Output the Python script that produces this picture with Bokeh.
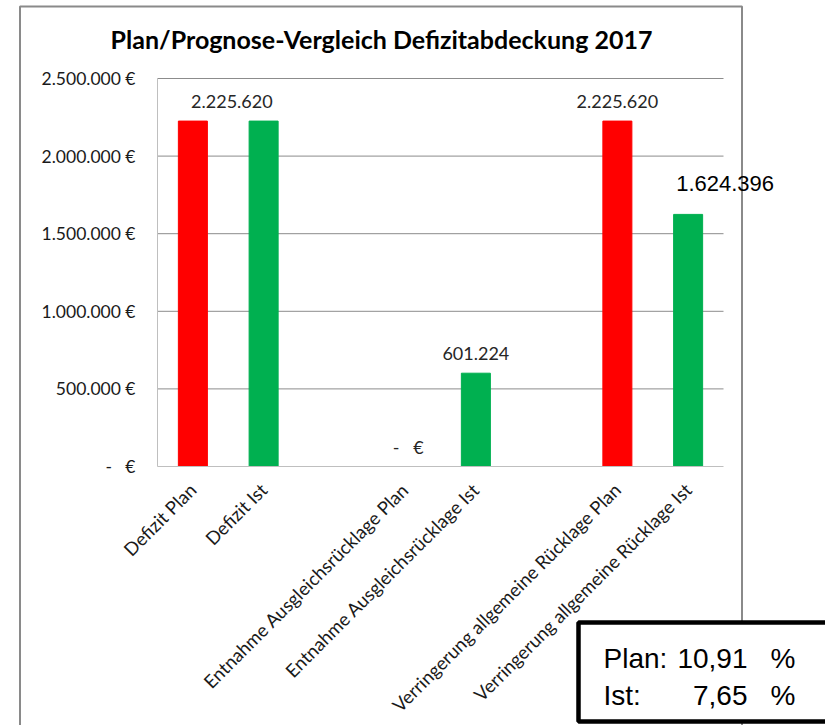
import math
from bokeh.plotting import figure
from bokeh.models import Range1d, FixedTicker, Label, LabelSet, BoxAnnotation, ColumnDataSource
from bokeh.core.properties import value
from bokeh.embed import file_html
from bokeh.resources import INLINE

# ---------------- data ----------------
title_text = "Plan/Prognose-Vergleich Defizitabdeckung 2017"

# category slots along the x axis (two empty gap slots)
axis_slots = ["Defizit Plan", "Defizit Ist", "",
              "Entnahme Ausgleichsrücklage Plan", "Entnahme Ausgleichsrücklage Ist", "",
              "Verringerung allgemeine Rücklage Plan", "Verringerung allgemeine Rücklage Ist"]

bar_categories = ["Defizit Plan", "Defizit Ist",
                  "Entnahme Ausgleichsrücklage Plan", "Entnahme Ausgleichsrücklage Ist",
                  "Verringerung allgemeine Rücklage Plan", "Verringerung allgemeine Rücklage Ist"]
bar_kinds = ["Plan", "Ist", "Plan", "Ist", "Plan", "Ist"]
bar_values = [2225620, 2225620, 0, 601224, 2225620, 1624396]

y_ticks = [0, 500000, 1000000, 1500000, 2000000, 2500000]

# data labels shown in the chart
label_categories = ["Defizit Plan", "Entnahme Ausgleichsrücklage Plan",
                    "Entnahme Ausgleichsrücklage Ist", "Verringerung allgemeine Rücklage Plan"]
big_label_categories = ["Verringerung allgemeine Rücklage Ist"]

plan_percent = 10.91
ist_percent = 7.65

# ---------------- layout / styling ----------------
W, H = 825, 725
PLOT_LEFT, PLOT_TOP, PLOT_BOTTOM = 157, 78, 466
SLOT_PX = 70.75
Y_MAX = 2500000
PX_PER_UNIT = (PLOT_BOTTOM - PLOT_TOP) / Y_MAX

NB = "\u00a0"
kind_colors = {"Plan": "#FF0000", "Ist": "#00B050"}
label_offsets_x = {"Defizit Plan": 39, "Entnahme Ausgleichsrücklage Plan": 3,
                   "Entnahme Ausgleichsrücklage Ist": 0, "Verringerung allgemeine Rücklage Plan": 0,
                   "Verringerung allgemeine Rücklage Ist": 37}
label_offsets_y = {"Defizit Plan": 20, "Entnahme Ausgleichsrücklage Plan": 20,
                   "Entnahme Ausgleichsrücklage Ist": 20, "Verringerung allgemeine Rücklage Plan": 20,
                   "Verringerung allgemeine Rücklage Ist": 31}


def de_num(v):
    return f"{v:,}".replace(",", ".")


def val_label(v):
    return de_num(v) if v else "-" + NB * 3 + "€"


def tick_label(t):
    return (de_num(t) + " €") if t else "-" + NB * 3 + "€"


def pct(v):
    return f"{v:.2f}".replace(".", ",")


def sx(X):          # page x -> screen units
    return X


def sy(Y):          # page y -> screen units (measured upward from the bottom)
    return H - Y


pos_of = {c: i for i, c in enumerate(axis_slots) if c}
value_of = dict(zip(bar_categories, bar_values))

x_start = -0.5 - PLOT_LEFT / SLOT_PX
x_end = x_start + W / SLOT_PX
y_start = -(H - PLOT_BOTTOM) / PX_PER_UNIT
y_end = PLOT_BOTTOM / PX_PER_UNIT

p = figure(x_range=Range1d(x_start, x_end), y_range=Range1d(y_start, y_end),
           width=W, height=H, output_backend="svg", toolbar_location=None,
           min_border=0, min_border_left=0, min_border_right=0,
           min_border_top=0, min_border_bottom=0)
p.outline_line_color = None
p.background_fill_color = "white"
p.border_fill_color = "white"
p.xgrid.visible = False
p.ygrid.visible = False

x_lo, x_hi = -0.5, len(axis_slots) - 0.5

# horizontal gridlines (value ticks above zero)
grid_vals = [t for t in y_ticks if t > 0]
p.segment(x0=[x_lo] * len(grid_vals), x1=[x_hi] * len(grid_vals), y0=grid_vals, y1=grid_vals,
          line_color="#8c8c8c", line_width=1)

# bars
src = ColumnDataSource(dict(x=[pos_of[c] for c in bar_categories], top=bar_values,
                            color=[kind_colors[k] for k in bar_kinds]))
p.vbar(x="x", top="top", width=0.41, color="color", source=src)

# y axis
ya = p.yaxis[0]
ya.fixed_location = x_lo
ya.bounds = (0, Y_MAX)
ya.ticker = FixedTicker(ticks=y_ticks)
ya.major_label_overrides = {t: tick_label(t) for t in y_ticks}
ya.axis_line_color = "#bfbfbf"
ya.major_tick_line_color = None
ya.minor_tick_line_color = None
ya.major_tick_out = 0
ya.major_tick_in = 0
ya.major_label_standoff = 22
ya.major_label_text_font = "Lato"
ya.major_label_text_font_size = "17.5px"
ya.major_label_text_color = "#1a1a1a"

# x axis
xa = p.xaxis[0]
xa.fixed_location = 0
xa.bounds = (x_lo, x_hi)
xa.ticker = FixedTicker(ticks=[pos_of[c] for c in bar_categories])
xa.major_label_overrides = {pos_of[c]: c for c in bar_categories}
xa.axis_line_color = "#bfbfbf"
xa.major_tick_line_color = None
xa.minor_tick_line_color = None
xa.major_tick_out = 0
xa.major_tick_in = 0
xa.major_label_orientation = math.pi / 4
xa.major_label_standoff = 20
xa.major_label_text_font = "Lato"
xa.major_label_text_font_size = "18.5px"
xa.major_label_text_color = "#1a1a1a"

# outer chart frame
p.add_layout(BoxAnnotation(left=sx(19.5), right=sx(741.5), top=sy(6), bottom=sy(740),
                           left_units="screen", right_units="screen",
                           top_units="screen", bottom_units="screen",
                           fill_alpha=0, line_color="#8a8a8a", line_alpha=1, line_width=2))

# data labels
lab_src = ColumnDataSource(dict(x=[pos_of[c] for c in label_categories],
                                y=[value_of[c] for c in label_categories],
                                text=[val_label(value_of[c]) for c in label_categories],
                                xo=[label_offsets_x[c] for c in label_categories],
                                yo=[label_offsets_y[c] for c in label_categories]))
p.add_layout(LabelSet(x="x", y="y", text="text", x_offset="xo", y_offset="yo", source=lab_src,
                      text_align="center", text_baseline="middle", text_font=value("Lato"),
                      text_font_size="18px", text_color="#262626"))
big_src = ColumnDataSource(dict(x=[pos_of[c] for c in big_label_categories],
                                y=[value_of[c] for c in big_label_categories],
                                text=[val_label(value_of[c]) for c in big_label_categories],
                                xo=[label_offsets_x[c] for c in big_label_categories],
                                yo=[label_offsets_y[c] for c in big_label_categories]))
p.add_layout(LabelSet(x="x", y="y", text="text", x_offset="xo", y_offset="yo", source=big_src,
                      text_align="center", text_baseline="middle", text_font=value("Liberation Sans"),
                      text_font_size="22px", text_color="black"))

# title
p.add_layout(Label(x=sx(381), y=sy(38), x_units="screen", y_units="screen", text=title_text,
                   text_align="center", text_baseline="middle", text_font="Lato",
                   text_font_style="bold", text_font_size="25px", text_color="black"))

# Plan / Ist box
p.add_layout(BoxAnnotation(left=sx(578), right=sx(840), top=sy(622), bottom=sy(721),
                           left_units="screen", right_units="screen",
                           top_units="screen", bottom_units="screen",
                           fill_color="white", fill_alpha=1, line_color="black", line_alpha=1,
                           line_width=4.5))
box_rows = [("Plan:", plan_percent, 658), ("Ist:", ist_percent, 695)]
for name, v, mid in box_rows:
    common = dict(y=sy(mid), x_units="screen", y_units="screen", text_baseline="middle",
                  text_font="Liberation Sans", text_font_size="28px", text_color="black")
    p.add_layout(Label(x=sx(603), text=name, text_align="left", **common))
    p.add_layout(Label(x=sx(747), text=pct(v), text_align="right", **common))
    p.add_layout(Label(x=sx(770), text="%", text_align="left", **common))

open("out.html", "w").write(file_html(p, INLINE))
